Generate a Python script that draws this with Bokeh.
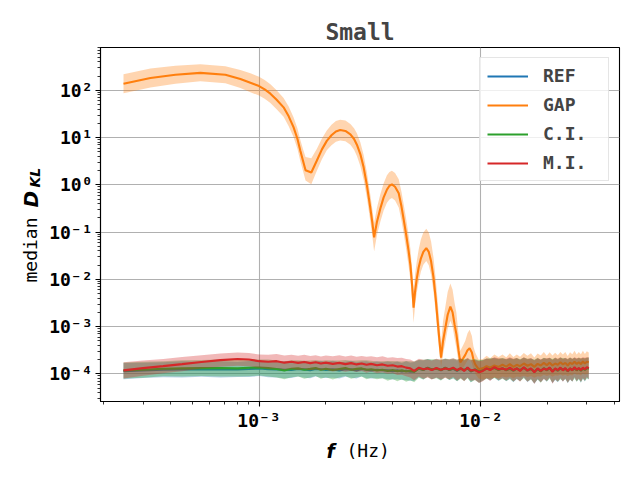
import math
from bokeh.plotting import figure
from bokeh.layouts import row, column
from bokeh.models import (FixedTicker, CustomJSTickFormatter, Label, Legend,
                          LegendItem, Range1d)
from bokeh.embed import file_html
from bokeh.resources import INLINE

# ---------------- data ----------------
SCALE = 1e-4  # the flat curves are given in units of 1e-4

# common frequency grid of REF / C.I. / M.I. (Hz)
F = [2.45e-4, 3.0e-4, 3.7e-4, 4.5e-4, 5.5e-4, 6.7e-4, 8.0e-4, 9.0e-4, 1.0e-3, 1.1e-3,
     1.2e-3, 1.3e-3, 1.4e-3, 1.5e-3, 1.6e-3, 1.7e-3, 1.8e-3, 1.9e-3, 2.0e-3, 2.15e-3,
     2.3e-3, 2.45e-3, 2.6e-3, 2.75e-3, 2.9e-3, 3.05e-3, 3.2e-3, 3.4e-3, 3.6e-3, 3.8e-3,
     4.0e-3, 4.2e-3, 4.4e-3, 4.6e-3, 4.8e-3, 5.0e-3, 5.25e-3, 5.5e-3, 5.75e-3, 6.0e-3,
     6.3e-3, 6.6e-3, 6.9e-3, 7.2e-3, 7.5e-3, 7.8e-3, 8.1e-3, 8.4e-3, 8.7e-3, 9.0e-3,
     9.4e-3, 9.8e-3, 1.02e-2, 1.06e-2, 1.1e-2, 1.15e-2, 1.2e-2, 1.25e-2, 1.3e-2, 1.35e-2,
     1.4e-2, 1.45e-2, 1.5e-2, 1.56e-2, 1.62e-2, 1.68e-2, 1.74e-2, 1.8e-2, 1.86e-2, 1.92e-2,
     1.98e-2, 2.04e-2, 2.1e-2, 2.16e-2, 2.22e-2, 2.28e-2, 2.34e-2, 2.4e-2, 2.46e-2, 2.52e-2,
     2.58e-2, 2.64e-2, 2.7e-2, 2.76e-2, 2.82e-2, 2.88e-2, 2.94e-2, 3.0e-2, 3.06e-2]

REF = [1.14, 1.18, 1.22, 1.24, 1.25, 1.24, 1.23, 1.26, 1.29, 1.25,
       1.24, 1.22, 1.20, 1.26, 1.24, 1.19, 1.26, 1.25, 1.20, 1.24,
       1.18, 1.25, 1.24, 1.18, 1.26, 1.22, 1.17, 1.22, 1.19, 1.18,
       1.14, 1.18, 1.12, 1.16, 1.10, 1.12, 1.30, 1.20, 1.35, 1.22,
       1.30, 1.18, 1.35, 1.20, 1.28, 1.15, 1.30, 1.18, 1.32, 1.12,
       1.25, 1.10, 1.20, 1.30, 1.22, 1.35, 1.20, 1.32, 1.18, 1.30,
       1.15, 1.28, 1.20, 1.35, 1.15, 1.28, 1.10, 1.25, 1.15, 1.30,
       1.18, 1.35, 1.12, 1.25, 1.15, 1.32, 1.20, 1.30, 1.12, 1.28,
       1.18, 1.35, 1.20, 1.30, 1.15, 1.32, 1.20, 1.35, 1.28]
CI = [1.17, 1.22, 1.28, 1.30, 1.32, 1.33, 1.30, 1.34, 1.36, 1.32,
      1.26, 1.18, 1.28, 1.30, 1.22, 1.27, 1.32, 1.22, 1.28, 1.20,
      1.26, 1.32, 1.22, 1.27, 1.30, 1.22, 1.25, 1.18, 1.22, 1.15,
      1.20, 1.13, 1.18, 1.12, 1.16, 1.10, 1.28, 1.22, 1.32, 1.25,
      1.28, 1.20, 1.33, 1.22, 1.30, 1.18, 1.28, 1.20, 1.30, 1.15,
      1.22, 1.12, 1.18, 1.28, 1.25, 1.32, 1.22, 1.30, 1.20, 1.28,
      1.18, 1.30, 1.18, 1.33, 1.20, 1.25, 1.12, 1.28, 1.12, 1.32,
      1.20, 1.30, 1.15, 1.28, 1.18, 1.30, 1.22, 1.28, 1.15, 1.30,
      1.20, 1.32, 1.18, 1.30, 1.18, 1.30, 1.22, 1.32, 1.30]
MI = [1.18, 1.32, 1.45, 1.60, 1.78, 1.95, 2.05, 2.00, 1.85, 1.80,
      1.85, 1.72, 1.80, 1.70, 1.78, 1.68, 1.75, 1.65, 1.72, 1.62,
      1.70, 1.60, 1.68, 1.58, 1.65, 1.55, 1.62, 1.52, 1.58, 1.48,
      1.52, 1.42, 1.45, 1.35, 1.30, 1.15, 1.35, 1.25, 1.30, 1.20,
      1.32, 1.22, 1.30, 1.25, 1.35, 1.20, 1.32, 1.15, 1.35, 1.18,
      1.20, 1.08, 1.15, 1.30, 1.20, 1.38, 1.25, 1.30, 1.22, 1.35,
      1.20, 1.30, 1.15, 1.38, 1.18, 1.30, 1.08, 1.30, 1.15, 1.28,
      1.22, 1.35, 1.10, 1.30, 1.20, 1.35, 1.18, 1.32, 1.15, 1.30,
      1.20, 1.38, 1.22, 1.32, 1.20, 1.35, 1.25, 1.38, 1.32]

# half-widths of the shaded bands (decades)
REF_SP = [.17, .16, .16, .17, .16, .17, .16, .17, .16, .17,
          .17, .18, .17, .16, .18, .17, .16, .18, .17, .18,
          .17, .16, .18, .17, .16, .18, .17, .18, .17, .19,
          .18, .19, .18, .20, .19, .20, .18, .20, .18, .20,
          .19, .21, .19, .21, .20, .22, .20, .22, .20, .23,
          .21, .23, .22, .21, .23, .21, .23, .21, .23, .22,
          .24, .22, .23, .21, .24, .22, .25, .22, .24, .22,
          .24, .21, .25, .23, .24, .22, .24, .22, .25, .23,
          .24, .21, .24, .22, .25, .22, .24, .21, .23]
CI_SP = [.17, .17, .16, .17, .17, .18, .17, .18, .17, .18,
         .18, .19, .18, .17, .19, .18, .17, .19, .18, .20,
         .18, .17, .19, .18, .17, .20, .18, .19, .18, .21,
         .19, .21, .19, .22, .20, .22, .19, .21, .19, .21,
         .20, .22, .20, .22, .21, .23, .21, .23, .21, .24,
         .22, .24, .22, .21, .23, .21, .23, .22, .23, .22,
         .24, .22, .23, .22, .24, .22, .25, .23, .24, .22,
         .24, .22, .25, .23, .24, .23, .24, .22, .25, .23,
         .24, .22, .24, .23, .25, .22, .24, .22, .23]
MI_SP = [.17, .16, .15, .15, .14, .14, .14, .14, .14, .15,
         .15, .15, .15, .15, .15, .15, .15, .15, .15, .16,
         .16, .16, .16, .16, .16, .17, .16, .17, .17, .17,
         .17, .18, .18, .18, .19, .20, .19, .20, .19, .20,
         .20, .21, .20, .21, .20, .22, .21, .22, .21, .22,
         .21, .23, .22, .21, .23, .21, .23, .21, .23, .22,
         .24, .22, .23, .21, .24, .22, .25, .22, .24, .22,
         .24, .21, .25, .23, .24, .22, .24, .22, .25, .23,
         .24, .21, .24, .22, .25, .22, .24, .21, .23]

# GAP curve: lobes (log10 of the median, read on the log axis) ...
GAP_LOBE_F = [2.45e-4, 3.24e-4, 4.2e-4, 5.44e-4, 7.05e-4, 8.24e-4, 9.14e-4, 1.0e-3, 1.06e-3, 1.125e-3,
              1.2e-3, 1.29e-3, 1.36e-3, 1.43e-3, 1.49e-3, 1.535e-3, 1.58e-3, 1.62e-3, 1.72e-3,
              1.82e-3, 1.92e-3, 2.02e-3, 2.12e-3, 2.22e-3, 2.32e-3, 2.45e-3, 2.58e-3, 2.68e-3, 2.76e-3,
              2.86e-3, 2.96e-3, 3.06e-3, 3.17e-3, 3.24e-3, 3.30e-3,
              3.40e-3, 3.52e-3, 3.64e-3, 3.77e-3, 3.87e-3, 3.97e-3, 4.10e-3, 4.26e-3, 4.38e-3, 4.48e-3,
              4.60e-3, 4.72e-3, 4.81e-3, 4.90e-3, 4.97e-3,
              5.05e-3, 5.14e-3, 5.24e-3, 5.36e-3, 5.50e-3, 5.67e-3, 5.82e-3, 5.96e-3, 6.11e-3, 6.25e-3,
              6.38e-3, 6.50e-3, 6.61e-3,
              6.75e-3, 6.91e-3, 7.08e-3, 7.28e-3, 7.45e-3, 7.60e-3, 7.75e-3, 7.92e-3, 8.07e-3,
              8.30e-3, 8.50e-3, 8.70e-3, 8.89e-3, 9.10e-3, 9.25e-3, 9.42e-3, 9.76e-3]
GAP_LOBE_LOG = [2.14, 2.26, 2.33, 2.37, 2.33, 2.24, 2.16, 2.09, 2.02, 1.93,
                1.80, 1.64, 1.45, 1.22, 0.97, 0.72, 0.50, 0.31, 0.26,
                0.51, 0.75, 0.93, 1.05, 1.13, 1.16, 1.14, 1.07, 0.97, 0.85,
                0.65, 0.37, 0.00, -0.48, -0.80, -1.11,
                -0.78, -0.50, -0.27, -0.10, -0.02, 0.01, -0.04, -0.18, -0.45, -0.72,
                -1.05, -1.40, -1.70, -2.15, -2.60,
                -2.25, -1.98, -1.75, -1.56, -1.42, -1.34, -1.42, -1.62, -1.96, -2.40,
                -2.88, -3.30, -3.66,
                -3.30, -3.03, -2.75, -2.58, -2.70, -2.95, -3.16, -3.50, -3.76,
                -3.68, -3.60, -3.50, -3.46, -3.55, -3.70, -3.80, -3.90]
GAP_LOBE_UP = [.20, .20, .19, .18, .18, .19, .20, .20, .20, .20,
               .20, .20, .21, .21, .22, .23, .25, .28, .30,
               .25, .23, .22, .22, .22, .22, .22, .22, .23, .24,
               .25, .26, .27, .28, .29, .30,
               .30, .30, .30, .30, .29, .29, .29, .30, .31, .32,
               .33, .34, .34, .35, .35,
               .36, .37, .38, .40, .41, .41, .41, .42, .42, .42,
               .42, .38, .30,
               .42, .45, .48, .49, .48, .46, .45, .35, .25,
               .28, .30, .36, .39, .35, .28, .25, .20]
GAP_LOBE_DN = [.20, .20, .19, .18, .18, .19, .20, .20, .20, .20,
               .20, .20, .21, .21, .21, .22, .22, .22, .25,
               .22, .21, .20, .21, .22, .22, .22, .22, .23, .24,
               .25, .26, .27, .28, .29, .30,
               .28, .28, .28, .28, .29, .29, .29, .30, .30, .30,
               .31, .32, .32, .32, .32,
               .30, .30, .30, .28, .27, .27, .28, .29, .30, .30,
               .30, .25, .20,
               .28, .30, .30, .30, .30, .30, .30, .25, .20,
               .20, .20, .22, .22, .22, .20, .20, .20]
# ... and the noisy tail above 1e-2 Hz (units of 1e-4, on grid F[52:])
GAP_TAIL = [1.30, 1.45, 1.35, 1.50, 1.40, 1.55, 1.42, 1.60, 1.40, 1.55,
            1.45, 1.65, 1.48, 1.60, 1.40, 1.62, 1.50, 1.70, 1.52, 1.72,
            1.50, 1.65, 1.55, 1.75, 1.58, 1.70, 1.50, 1.72, 1.60, 1.80,
            1.62, 1.75, 1.60, 1.82, 1.65, 1.80, 1.75]
GAP_TAIL_UP = [.20, .22, .20, .23, .21, .22, .20, .23, .21, .22,
               .20, .22, .21, .23, .20, .22, .21, .23, .20, .22,
               .21, .23, .20, .22, .21, .23, .20, .22, .21, .23,
               .20, .22, .21, .23, .20, .22, .21]
GAP_TAIL_DN = [.24, .25, .23, .26, .24, .25, .23, .26, .24, .25,
               .23, .26, .24, .25, .23, .26, .24, .25, .23, .26,
               .24, .25, .23, .26, .24, .25, .23, .26, .24, .25,
               .23, .26, .24, .25, .23, .26, .24]

LABELS = ["REF", "GAP", "C.I.", "M.I."]
COLORS = ["#1f77b4", "#ff7f0e", "#2ca02c", "#d62728"]

X_TICKS = [1e-4, 1e-3, 1e-2, 1e-1]
Y_TICKS = [1e-5, 1e-4, 1e-3, 1e-2, 1e-1, 1.0, 10.0, 100.0, 1000.0]

# ---------------- layout sizes ----------------
MONO = "DejaVu Sans Mono"
TOTAL_W, TOTAL_H = 624, 464
YLAB_W = 46          # strip holding the y-axis label
XLAB_H = 28          # strip holding the x-axis label
MAIN_W = TOTAL_W - YLAB_W
MAIN_H = TOTAL_H - XLAB_H
FRAME_BOTTOM = 401   # page y of the plot frame bottom (the label strip's frame is aligned to it)

p = figure(width=MAIN_W, height=MAIN_H, x_axis_type="log", y_axis_type="log",
           x_range=Range1d(1.93e-4, 4.21e-2), y_range=Range1d(2.59e-5, 807.0),
           output_backend="svg", toolbar_location=None,
           min_border_left=100 - YLAB_W, min_border_right=5, min_border_top=47,
           min_border_bottom=MAIN_H - FRAME_BOTTOM)
p.background_fill_color = "white"
p.border_fill_color = "white"
p.outline_line_color = "black"
p.outline_line_width = 1.1
p.outline_line_alpha = 1.0

p.title.text = "Small"
p.title.text_font = MONO
p.title.text_font_style = "bold"
p.title.text_font_size = "23px"
p.title.align = "center"
p.title.standoff = 6


def scaled(vals):
    return [v * SCALE for v in vals]


def band(vals, up, dn):
    return ([v / 10 ** d for v, d in zip(vals, dn)], [v * 10 ** u for v, u in zip(vals, up)])


GAP_F = GAP_LOBE_F + F[52:]
GAP = [10 ** v for v in GAP_LOBE_LOG] + scaled(GAP_TAIL)
GAP_UP = GAP_LOBE_UP + GAP_TAIL_UP
GAP_DN = GAP_LOBE_DN + GAP_TAIL_DN

series = [
    (F, scaled(REF), REF_SP, REF_SP),
    (GAP_F, GAP, GAP_UP, GAP_DN),
    (F, scaled(CI), CI_SP, CI_SP),
    (F, scaled(MI), MI_SP, MI_SP),
]
line_renderers = []
for (xs, ys, up, dn), col in zip(series, COLORS):
    lo, hi = band(ys, up, dn)
    p.varea(x=xs, y1=lo, y2=hi, fill_color=col, fill_alpha=0.33)
    r = p.line(xs, ys, line_color=col, line_width=2.1)
    line_renderers.append(r)

# ticks / grid
minor_x = [m * 10.0 ** e for e in (-4, -3, -2) for m in range(2, 10)]
minor_y = [m * 10.0 ** e for e in range(-5, 3) for m in range(2, 10)]
xt = FixedTicker(ticks=X_TICKS, minor_ticks=minor_x)
yt = FixedTicker(ticks=Y_TICKS, minor_ticks=minor_y)
p.xaxis.ticker = xt
p.yaxis.ticker = yt
p.xgrid.ticker = xt
p.ygrid.ticker = yt

fmt_code = """
const e = Math.round(Math.log10(tick));
const m = {'-':'\u207b','0':'\u2070','1':'\u00b9','2':'\u00b2','3':'\u00b3','4':'\u2074',
           '5':'\u2075','6':'\u2076','7':'\u2077','8':'\u2078','9':'\u2079'};
return '10' + String(e).split('').map(c => m[c]).join('');
"""
for ax in (p.xaxis[0], p.yaxis[0]):
    ax.formatter = CustomJSTickFormatter(code=fmt_code)
    ax.major_label_text_font = MONO
    ax.major_label_text_font_style = "bold"
    ax.major_label_text_font_size = "18px"
    ax.major_label_text_color = "black"
    ax.axis_line_color = "black"
    ax.axis_line_width = 1.1
    ax.major_tick_line_color = "black"
    ax.minor_tick_line_color = "black"
    ax.major_tick_line_width = 1.1
    ax.minor_tick_line_width = 0.8
    ax.major_tick_out = 5
    ax.major_tick_in = 0
    ax.minor_tick_out = 3
    ax.minor_tick_in = 0
    ax.major_label_standoff = 3

for g in (p.xgrid[0], p.ygrid[0]):
    g.grid_line_color = "#b0b0b0"
    g.grid_line_width = 1.1
    g.grid_line_alpha = 1.0
    g.minor_grid_line_color = None

legend = Legend(items=[LegendItem(label=l, renderers=[r]) for l, r in zip(LABELS, line_renderers)],
                location="top_right")
legend.label_text_font = MONO
legend.label_text_font_style = "bold"
legend.label_text_font_size = "18px"
legend.glyph_width = 41
legend.glyph_height = 20
legend.label_height = 20
legend.label_width = 58
legend.label_standoff = 15
legend.spacing = 8
legend.padding = 7
legend.margin = 10
legend.border_line_color = "#cccccc"
legend.border_line_width = 1
legend.background_fill_alpha = 0.8
p.add_layout(legend)


# ---------------- axis-label strips (text in normal monospace + bold italic symbols) ----------------
def strip(w, h):
    s = figure(width=w, height=h, output_backend="svg", toolbar_location=None,
               x_axis_location=None, y_axis_location=None,
               min_border_left=0, min_border_right=0, min_border_top=0, min_border_bottom=0)
    s.outline_line_color = None
    s.background_fill_color = "white"
    s.border_fill_color = "white"
    s.grid.visible = False
    return s


def lab(fig, x, y, text, font, style, size, angle=0.0):
    fig.add_layout(Label(x=x, y=y, x_units="screen", y_units="screen", text=text,
                         text_font=font, text_font_style=style, text_font_size=size,
                         text_align="left", text_baseline="alphabetic", angle=angle,
                         text_color="black"))


ylab = strip(YLAB_W, MAIN_H)
lab(ylab, 30, FRAME_BOTTOM - 282, "median", MONO, "normal", "18px", math.pi / 2)
lab(ylab, 30, FRAME_BOTTOM - 207, "D", "DejaVu Sans", "bold italic", "20px", math.pi / 2)
lab(ylab, 34, FRAME_BOTTOM - 187, "KL", "DejaVu Sans", "bold italic", "14px", math.pi / 2)

xlab = strip(TOTAL_W, XLAB_H)
lab(xlab, 326, TOTAL_H - 453 + 3, "f", "DejaVu Sans", "bold italic", "19px")
lab(xlab, 346, TOTAL_H - 453 + 3, "(Hz)", MONO, "normal", "18px")

layout = column(row(ylab, p, spacing=0), xlab, spacing=0)

open("out.html", "w").write(file_html(layout, INLINE))
